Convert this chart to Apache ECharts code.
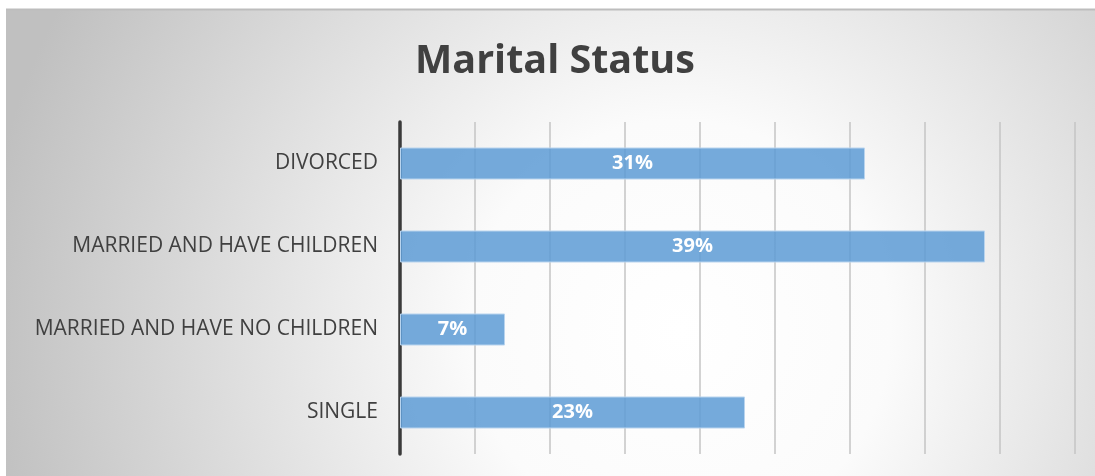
<!DOCTYPE html>
<html style="height: 100%">
  <head>
    <meta charset="utf-8" />
  </head>
  <body style="height: 100%; margin: 0; background: #fff">
    <div id="container" style="width: 1095px; height: 476px"></div>
    <script
      type="text/javascript"
      src="https://cdn.jsdelivr.net/npm/echarts@6/dist/echarts.min.js"
    ></script>
    <script type="text/javascript">
      var categories = ["DIVORCED", "MARRIED AND HAVE CHILDREN", "MARRIED AND HAVE NO CHILDREN", "SINGLE"];
      var values = [31, 39, 7, 23];
      var axisMax = 45;
      var axisStep = 5;

      var chart = echarts.init(document.getElementById("container"));
      var font = "'Open Sans', Lato, sans-serif";

      var option = {
        animation: false,
        title: {
          text: "Marital Status",
          left: 550,
          textAlign: "center",
          top: 37,
          textStyle: { fontFamily: font, fontSize: 39.5, fontWeight: "bold", color: "#404040" },
        },
        graphic: [
          {
            type: "rect",
            z: -10,
            silent: true,
            shape: { x: 6, y: 9, width: 1089, height: 467 },
            style: {
              fill: new echarts.graphic.RadialGradient(680, 330, 700, [
                { offset: 0, color: "#ffffff" },
                { offset: 0.3, color: "#fbfbfb" },
                { offset: 1, color: "#c0c0c0" },
              ], true),
            },
          },
          {
            type: "line",
            z: -9,
            silent: true,
            shape: { x1: 6, y1: 9.5, x2: 1095, y2: 9.5 },
            style: { stroke: "#bdbdbd", lineWidth: 2 },
          },
        ],
        grid: { left: 400, right: 20, top: 122, bottom: 22 },
        xAxis: {
          type: "value",
          min: 0,
          max: axisMax,
          interval: axisStep,
          axisLabel: { show: false },
          axisLine: { show: false },
          axisTick: { show: false },
          splitLine: { lineStyle: { color: "#c4c4c4", width: 1.5 } },
        },
        yAxis: {
          type: "category",
          data: categories,
          inverse: true,
          axisLine: { lineStyle: { color: "#3a3a3a", width: 3.5 } },
          axisTick: { show: false },
          axisLabel: { margin: 22, padding: [4, 0, 0, 0], fontFamily: font, fontSize: 21, color: "#404040" },
        },
        series: [
          {
            type: "bar",
            data: values,
            barWidth: 32,
            itemStyle: { color: "rgba(93,155,213,0.85)", borderColor: "#b9d4ee", borderWidth: 1 },
            label: {
              show: true,
              position: "inside",
              formatter: "{c}%",
              fontFamily: font,
              fontSize: 20,
              fontWeight: "bold",
              color: "#ffffff",
            },
          },
        ],
      };
      chart.setOption(option);
    </script>
  </body>
</html>
